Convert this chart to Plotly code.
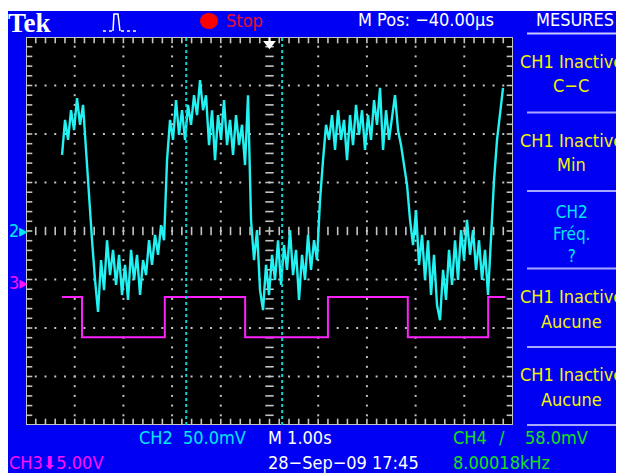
import numpy as np
import plotly.graph_objects as go

# page is rendered with the browser's default 8px body margin
OX, OY = 8, 8
FW, FH = 616, 465

# ---------------- data (divisions, time in s; 1 s/div) ----------------
cyan_v = [1.57, 2.29, 1.88, 2.49, 2.08, 2.74, 2.19, 2.60, 1.67, 0.64,
          -0.19, -1.01, -1.67, -0.60, -1.22, -0.19, -0.91, -0.39, -1.11, -0.49,
          -1.32, -0.70, -1.42, -0.39, -1.01, -0.49, -1.32, -0.60, -0.91, -0.19,
          -0.70, -0.08, -0.49, 0.12, -0.19, 1.46, 2.29, 1.88, 2.70, 1.98,
          2.49, 1.88, 2.60, 2.19, 2.80, 2.39, 3.11, 2.49, 2.80, 1.77,
          2.49, 1.46, 2.39, 1.88, 2.70, 1.77, 2.29, 1.57, 2.39, 1.77,
          2.19, 1.36, 2.80, 0.23, -0.60, 0.02, -1.22, -1.63, -0.70, -1.32,
          -0.49, -1.01, -0.19, -1.11, -0.29, -0.80, 0.02, -0.91, -0.39, -1.42,
          -0.49, -1.01, -0.08, -0.80, -0.19, -0.60, 0.64, 1.46, 2.19, 1.88,
          2.39, 1.67, 2.49, 1.88, 2.29, 1.46, 2.39, 1.77, 2.60, 1.98,
          2.49, 1.67, 2.39, 1.88, 2.70, 2.19, 2.95, 1.67, 2.49, 1.88,
          2.29, 2.80, 2.08, 1.77, 1.36, 0.95, 0.23, -0.29, 0.43, -0.70,
          -0.08, -1.01, -0.19, -1.32, -0.49, -1.53, -1.84, -0.80, -1.42, -0.39,
          -1.11, -0.19, -1.01, 0.02, -0.60, 0.23, -0.49, 0.02, -0.80, -0.19,
          -1.01, -0.39, -1.32, 0.02, 1.05, 1.88, 2.49, 2.95]
cyan_t0, cyan_dt = 0.74, 0.0616
cyan_t = cyan_t0 + cyan_dt * np.arange(len(cyan_v))

mag_t = [0.74, 1.15, 2.85, 4.50, 6.20, 7.84, 9.49, 9.84]
mag_v = [-1.36, -2.19, -1.36, -2.19, -1.36, -2.19, -1.36, -1.36]

cursor_t = [3.29, 5.26]

right_panel = [("CH1 Inactive", 61, "y"), ("C\u2212C", 86, "y"),
               ("CH1 Inactive", 140, "y"), ("Min", 164.5, "y"),
               ("CH1 Inactive", 296, "y"), ("Aucune", 321, "y"),
               ("CH1 Inactive", 374.5, "y"), ("Aucune", 399, "y")]
ch2_block = "CH2<br>Fréq.<br>?"
separators_y = [112.5, 191, 268.5, 347, 425]

# ---------------- styling ----------------
BLUE = "#0000f2"
YEL = "#f4f400"
CYT = "#00e8f4"
GRN = "#18e018"
MAG = "#ff10ff"
WHT = "#ffffff"
GRAT = "#c4c4c4"
FONT = "Liberation Sans Narrow, DejaVu Sans Condensed, Arial Narrow, DejaVu Sans, sans-serif"

def px(x): return (x - OX) / FW
def py(y): return 1 - (y - OY) / FH

fig = go.Figure()

# graticule dots
gx, gy = [], []
steps = np.round(np.arange(0, 10.001, 0.2), 3)
vsteps = np.round(np.arange(-4, 4.001, 0.2), 3)
for xv in range(1, 10):
    if xv == 5:
        continue
    for yv in vsteps[1:-1]:
        gx.append(xv); gy.append(yv)
for yv in range(-3, 4):
    if yv == 0:
        continue
    for xv in steps[1:-1]:
        gx.append(xv); gy.append(yv)
fig.add_trace(go.Scatter(x=gx, y=gy, mode="markers",
                         marker=dict(symbol="square", size=2, color=GRAT, line_width=0),
                         hoverinfo="skip"))
# center cross ticks
fig.add_trace(go.Scatter(x=steps[1:-1], y=[0] * len(steps[1:-1]), mode="markers",
                         marker=dict(symbol="line-ns", size=6, line=dict(color=GRAT, width=1.6)),
                         hoverinfo="skip"))
fig.add_trace(go.Scatter(x=[5] * len(vsteps[1:-1]), y=vsteps[1:-1], mode="markers",
                         marker=dict(symbol="line-ew", size=6, line=dict(color=GRAT, width=1.6)),
                         hoverinfo="skip"))
# border ticks
fig.add_trace(go.Scatter(x=list(steps) * 2, y=[4] * len(steps) + [-4] * len(steps), mode="markers",
                         marker=dict(symbol="line-ns", size=9, line=dict(color=GRAT, width=1.6)),
                         hoverinfo="skip"))
fig.add_trace(go.Scatter(x=[0] * len(vsteps) + [10] * len(vsteps), y=list(vsteps) * 2, mode="markers",
                         marker=dict(symbol="line-ew", size=9, line=dict(color=GRAT, width=1.6)),
                         hoverinfo="skip"))

# waveforms
fig.add_trace(go.Scatter(x=mag_t, y=mag_v, mode="lines", line=dict(color="#ff20ff", width=2, shape="hv"),
                         hoverinfo="skip"))
fig.add_trace(go.Scatter(x=cyan_t, y=cyan_v, mode="lines", line=dict(color="#22f2f2", width=2.4),
                         hoverinfo="skip"))
# trigger marker
fig.add_trace(go.Scatter(x=[5], y=[3.86], mode="markers",
                         marker=dict(symbol="triangle-down", size=11, color=WHT, line_width=0),
                         hoverinfo="skip"))

shapes = []
shapes.append(dict(type="rect", xref="paper", yref="paper", x0=0, x1=px(622), y0=0, y1=py(11),
                   fillcolor=BLUE, line_width=0, layer="below"))
shapes.append(dict(type="rect", xref="x", yref="y", x0=0, x1=10, y0=-4, y1=4,
                   fillcolor="black", line_width=0, layer="below"))
shapes.append(dict(type="rect", xref="x", yref="y", x0=0, x1=10, y0=-4, y1=4,
                   line=dict(color=GRAT, width=2), layer="above"))
for ct in cursor_t:
    shapes.append(dict(type="line", xref="x", yref="y", x0=ct, x1=ct, y0=-4, y1=4,
                       line=dict(color="#00d8d8", width=2, dash="dot")))
shapes.append(dict(type="line", xref="x", yref="y", x0=5, x1=5, y0=4, y1=3.9,
                   line=dict(color=WHT, width=2)))
# right-panel separators
for sy in separators_y:
    shapes.append(dict(type="line", xref="paper", yref="paper", x0=px(527), x1=px(616), y0=py(sy), y1=py(sy),
                       line=dict(color="#a8a8ff", width=2)))
shapes.append(dict(type="line", xref="paper", yref="paper", x0=px(527), x1=px(616), y0=py(33.5), y1=py(33.5),
                   line=dict(color="#c8c8ff", width=2)))
# red stop dot
shapes.append(dict(type="circle", xref="paper", yref="paper", x0=px(200), x1=px(218), y0=py(29), y1=py(13),
                   fillcolor="#ff0000", line_width=0))
# pulse icon
def pth(pts):
    return "M " + " L ".join(f"{px(a):.5f},{py(b):.5f}" for a, b in pts)
shapes.append(dict(type="path", xref="paper", yref="paper",
                   path=pth([(113, 31), (114, 14), (118, 14), (120, 31)]),
                   line=dict(color=WHT, width=1.5)))
shapes.append(dict(type="path", xref="paper", yref="paper",
                   path=pth([(103, 31), (112, 31)]), line=dict(color=WHT, width=1.5, dash="dot")))
shapes.append(dict(type="path", xref="paper", yref="paper",
                   path=pth([(121, 31), (138, 31)]), line=dict(color=WHT, width=1.5, dash="dot")))

ann = []
def txt(s, x, y, color, size=18, anchor="left", family=FONT):
    ann.append(dict(text=s, x=px(x), y=py(y), xref="paper", yref="paper", xanchor=anchor,
                    yanchor="middle", showarrow=False, font=dict(color=color, size=size, family=family)))

txt("<b>Tek</b>", 6, 23, WHT, size=27, family="Liberation Serif, DejaVu Serif, serif")
txt("Stop", 224, 21, "#e8102a")
txt("M Pos: \u221240.00\u00b5s", 356, 20, WHT)
txt("MESURES", 575, 20, WHT, anchor="center")
for s, yy, c in right_panel:
    txt(s, 571, yy, YEL, anchor="center")
txt(ch2_block, 571, 234, CYT, size=17, anchor="center")
txt("CH2", 137, 437, CYT)
txt("50.0mV", 181, 437, CYT)
txt("M 1.00s", 266, 437, WHT)
txt("CH4", 451, 437, GRN)
txt("/", 497, 437, GRN)
txt("58.0mV", 523, 437, GRN)
txt("CH3\u2b075.00V", 7, 462, MAG)
txt("28\u2212Sep\u221209 17:45", 266, 462, WHT)
txt("8.00018kHz", 451, 462, GRN)
txt("2\u25b8", 7, 230, CYT)
txt("3\u25b8", 7, 282, MAG)

fig.update_layout(
    width=FW, height=FH, margin=dict(l=0, r=0, t=0, b=0),
    paper_bgcolor="white", plot_bgcolor="black", showlegend=False,
    xaxis=dict(domain=[px(26), px(513)], range=[0, 10], visible=False, fixedrange=True),
    yaxis=dict(domain=[py(425), py(37)], range=[-4, 4], visible=False, fixedrange=True),
    shapes=shapes, annotations=ann,
)
fig.write_html("out.html")
